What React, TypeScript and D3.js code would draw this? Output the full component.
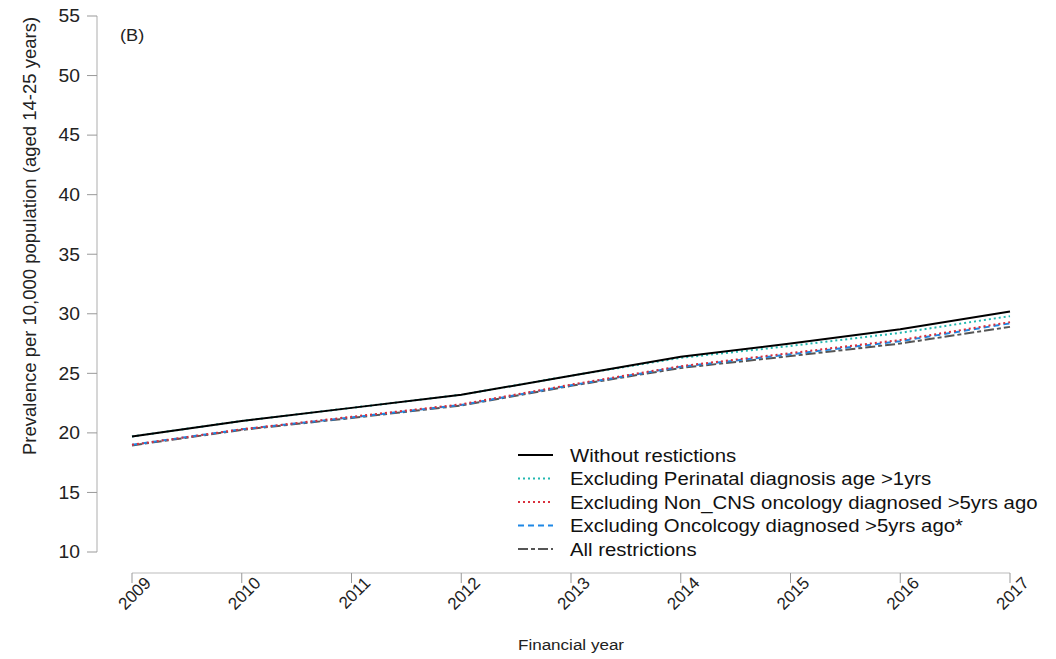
import React from "react";
import * as d3 from "d3";

const years = [2009, 2010, 2011, 2012, 2013, 2014, 2015, 2016, 2017];
const withoutRestrictions = [19.7, 21.0, 22.1, 23.2, 24.8, 26.4, 27.5, 28.7, 30.2];
const exclPerinatal = [19.7, 21.0, 22.1, 23.2, 24.8, 26.3, 27.3, 28.4, 29.8];
const exclNonCNS = [19.0, 20.3, 21.35, 22.4, 24.05, 25.6, 26.7, 27.8, 29.3];
const exclOncology = [19.0, 20.3, 21.3, 22.35, 24.0, 25.55, 26.6, 27.7, 29.2];
const allRestrictions = [18.95, 20.25, 21.25, 22.3, 23.95, 25.45, 26.45, 27.5, 28.9];
const yTicks = [10, 15, 20, 25, 30, 35, 40, 45, 50, 55];
const seriesNames = [
  "Without restictions",
  "Excluding Perinatal diagnosis age >1yrs",
  "Excluding Non_CNS oncology diagnosed >5yrs ago",
  "Excluding Oncolcogy diagnosed >5yrs ago*",
  "All restrictions",
];

const seriesData = [withoutRestrictions, exclPerinatal, exclNonCNS, exclOncology, allRestrictions];
const styles = [
  { color: "#000000", dash: "none", width: 2 },
  { color: "#22b8b0", dash: "2,3", width: 2 },
  { color: "#d9303c", dash: "2,3", width: 2 },
  { color: "#1e88e5", dash: "6,4", width: 2 },
  { color: "#555555", dash: "10,3,4,3", width: 2 },
];

export default function App() {
  const W = 1056, H = 659;
  const x = d3.scaleLinear().domain([2009, 2017]).range([132, 1010]);
  const y = d3.scaleLinear().domain([10, 55]).range([552, 16]);
  const line = d3.line<number>().x((_, i) => x(years[i])).y((d) => y(d));
  const drawOrder = [4, 3, 2, 1, 0];
  const font = "Liberation Sans, Arial, sans-serif";
  return (
    <svg width={W} height={H} style={{ position: "absolute", left: 0, top: 0 }} fontFamily={font}>
      <rect width={W} height={H} fill="#fff" />
      {/* y axis */}
      <line x1={97} x2={97} y1={y(55)} y2={y(10)} stroke="#bbb" strokeWidth={1.2} />
      {yTicks.map((t) => (
        <g key={t}>
          <line x1={87} x2={97} y1={y(t)} y2={y(t)} stroke="#999" strokeWidth={1} />
          <text transform={`translate(80,${y(t)}) scale(1.1,1)`} dy="0.36em" textAnchor="end" fontSize={17.5} fill="#222">{t}</text>
        </g>
      ))}
      {/* x axis */}
      <line x1={x(2009)} x2={x(2017)} y1={573} y2={573} stroke="#bbb" strokeWidth={1.2} />
      {years.map((yr) => (
        <g key={yr}>
          <line x1={x(yr)} x2={x(yr)} y1={573} y2={583} stroke="#999" strokeWidth={1} />
          <text transform={`translate(${x(yr) + 20},${584}) rotate(-45)`} textAnchor="end" fontSize={17} fill="#222">{yr}</text>
        </g>
      ))}
      <text transform="translate(571,650) scale(1.1,1)" textAnchor="middle" fontSize={15.5} fill="#222">Financial year</text>
      <text transform={`translate(36,236) rotate(-90)`} textAnchor="middle" fontSize={18.5} fill="#222">
        Prevalence per 10,000 population (aged 14-25 years)
      </text>
      <text transform="translate(120,41) scale(1.1,1)" fontSize={16.5} fill="#222">(B)</text>
      {/* lines */}
      {drawOrder.map((i) => (
        <path key={i} d={line(seriesData[i]) || ""} fill="none" stroke={styles[i].color}
          strokeWidth={styles[i].width} strokeDasharray={styles[i].dash} />
      ))}
      {/* legend */}
      {seriesNames.map((n, i) => {
        const ly = 455 + i * 23.5;
        return (
          <g key={n}>
            <line x1={518} x2={553} y1={ly} y2={ly} stroke={styles[i].color} strokeWidth={styles[i].width}
              strokeDasharray={styles[i].dash} />
            <text transform={`translate(570,${ly}) scale(1.1,1)`} dy="0.36em" fontSize={18.5} fill="#111">{n}</text>
          </g>
        );
      })}
    </svg>
  );
}
